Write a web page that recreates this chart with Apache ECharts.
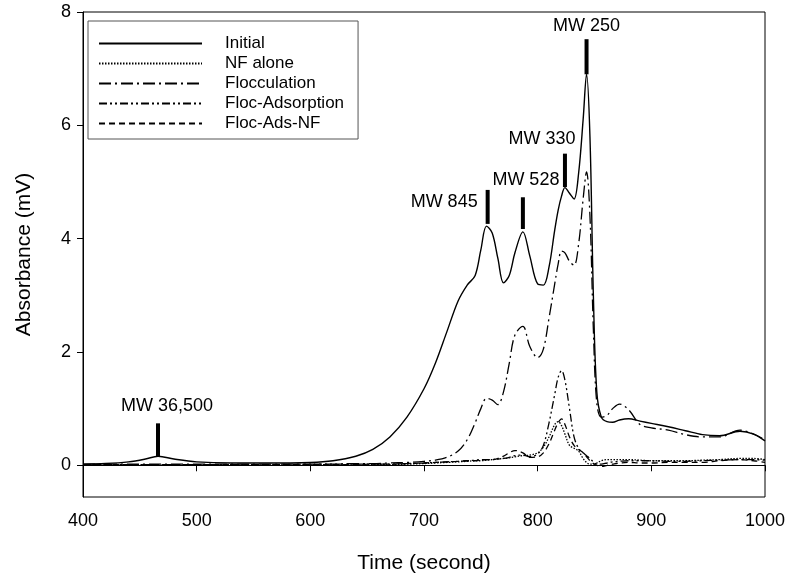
<!DOCTYPE html>
<html><head><meta charset="utf-8">
<script src="https://cdn.jsdelivr.net/npm/echarts@6/dist/echarts.min.js"></script>
<style>html,body{margin:0;padding:0;background:#fff}#c{width:791px;height:579px}</style>
</head><body><div id="c"></div>
<script>
// ---------- DATA ----------
const times = [400,420,440,455,466,480,500,530,560,600,620,640,655,670,685,700,710,720,730,738,745,750,755,760,765,770,775,780,787,793,800,805,810,815,818,821,824,828,832,836,840,843,846,849,852,856,861,866,872,880,890,900,915,930,945,960,978,990,1000];
const initial = [0.02,0.03,0.06,0.11,0.16,0.11,0.06,0.04,0.04,0.05,0.08,0.16,0.28,0.5,0.85,1.35,1.8,2.35,2.9,3.18,3.35,3.8,4.22,4.1,3.65,3.22,3.35,3.75,4.12,3.7,3.2,3.18,3.5,4.15,4.5,4.75,4.9,4.8,4.7,5.15,6.1,6.9,5.8,3.0,1.3,0.85,0.77,0.76,0.8,0.82,0.78,0.74,0.68,0.61,0.54,0.52,0.6,0.55,0.43];
const nfAlone = [0,0,0,0,0,0,0,0,0,0,0,0,0.01,0.01,0.02,0.03,0.04,0.05,0.06,0.07,0.08,0.08,0.09,0.1,0.11,0.12,0.13,0.15,0.17,0.18,0.22,0.32,0.5,0.72,0.77,0.7,0.55,0.35,0.3,0.25,0.12,0.05,0.02,0.02,0.04,0.08,0.1,0.1,0.1,0.1,0.09,0.08,0.08,0.08,0.09,0.1,0.12,0.12,0.1];
const flocculation = [0.02,0.02,0.02,0.02,0.02,0.02,0.02,0.02,0.02,0.02,0.02,0.03,0.03,0.04,0.05,0.07,0.09,0.14,0.25,0.45,0.75,1.0,1.18,1.15,1.07,1.3,1.8,2.3,2.45,2.1,1.9,2.05,2.6,3.2,3.55,3.78,3.75,3.6,3.53,3.9,4.7,5.18,4.4,2.4,1.1,0.85,0.88,1.0,1.08,0.98,0.72,0.66,0.62,0.54,0.5,0.5,0.62,0.55,0.45];
const flocAdsorption = [0.01,0.01,0.01,0.01,0.01,0.01,0.01,0.01,0.01,0.02,0.02,0.02,0.02,0.02,0.03,0.04,0.05,0.06,0.07,0.08,0.09,0.1,0.1,0.1,0.11,0.12,0.14,0.17,0.18,0.15,0.2,0.35,0.75,1.25,1.55,1.67,1.5,1.0,0.5,0.3,0.22,0.17,0.12,0.06,0.02,0.02,0.04,0.06,0.07,0.08,0.08,0.08,0.07,0.07,0.08,0.09,0.1,0.1,0.09];
const flocAdsNF = [0.01,0.01,0.01,0.01,0.01,0.01,0.01,0.01,0.01,0.01,0.01,0.01,0.02,0.02,0.03,0.04,0.05,0.06,0.07,0.08,0.08,0.09,0.1,0.1,0.12,0.16,0.22,0.26,0.22,0.14,0.15,0.22,0.38,0.62,0.75,0.82,0.72,0.5,0.35,0.28,0.22,0.15,0.08,0.03,0,-0.02,0,0.02,0.04,0.05,0.04,0.04,0.05,0.05,0.05,0.08,0.1,0.08,0.05];

const seriesNames = ['Initial','NF alone','Flocculation','Floc-Adsorption','Floc-Ads-NF'];

const annoNames = ['MW 36,500','MW 845','MW 528','MW 330','MW 250'];
const annoTime  = [466, 756, 787, 824, 843];
const annoBase  = [0.16, 4.26, 4.17, 4.91, 6.9];
const annoTop   = [0.74, 4.86, 4.73, 5.5, 7.52];

const yTicks = [0,2,4,6,8];

// ---------- STYLE ----------
const FONT = '"Liberation Sans", Arial, sans-serif';
const dashes = ['solid', [1.5,1.5], [12,4,2,4], [8,3,2,3,2,3], [6,4]];
// label placement: [dx, dy, align, verticalAlign] relative to bar top
const labelPlace = [
  [9, -8, 'center', 'bottom'],
  [-10, 12, 'right', 'middle'],
  [3, -8, 'center', 'bottom'],
  [-23, -6, 'center', 'bottom'],
  [0, -4, 'center', 'bottom']
];

const allSeries = [initial, nfAlone, flocculation, flocAdsorption, flocAdsNF];
const series = allSeries.map((vals, i) => ({
  name: seriesNames[i], type: 'line', smooth: 0.35, symbol: 'none',
  data: times.map((t, j) => [t, vals[j]]),
  lineStyle: {color: '#000', width: i === 0 ? 1.4 : 1.3, type: dashes[i]},
  itemStyle: {color: '#000'}, z: 3
}));

series.push({
  type: 'custom', name: 'annotations', z: 5, silent: true,
  data: annoNames.map((n, i) => [annoTime[i], annoBase[i], annoTop[i], i]),
  renderItem: function (params, api) {
    const t = api.value(0), b = api.value(1), tp = api.value(2), i = api.value(3);
    const p0 = api.coord([t, b]), p1 = api.coord([t, tp]);
    const lp = labelPlace[i];
    return {
      type: 'group',
      children: [
        {type: 'rect', shape: {x: p1[0] - 2, y: p1[1], width: 4, height: p0[1] - p1[1]}, style: {fill: '#000'}},
        {type: 'text', x: p1[0] + lp[0], y: p1[1] + lp[1],
         style: {text: annoNames[i], font: '18px ' + FONT, fill: '#000', align: lp[2], verticalAlign: lp[3]}}
      ]
    };
  }
});

const chart = echarts.init(document.getElementById('c'));
chart.setOption({
  animation: false,
  backgroundColor: '#fff',
  grid: {left: 83, right: 26, top: 12, bottom: 79, show: true, borderColor: '#000', borderWidth: 1},
  legend: {
    data: seriesNames, orient: 'vertical', left: 88, top: 21,
    itemWidth: 103, itemHeight: 14, itemGap: 3,
    padding: [14, 14, 7, 10],
    borderColor: '#555', borderWidth: 1,
    itemStyle: {opacity: 0},
    textStyle: {fontFamily: FONT, fontSize: 17, color: '#000', padding: [0, 0, 0, 18]},
    selectedMode: false
  },
  xAxis: {
    type: 'value', min: 400, max: 1000, interval: 100,
    name: 'Time (second)', nameLocation: 'middle', nameGap: 56,
    nameTextStyle: {fontFamily: FONT, fontSize: 21, color: '#000'},
    axisLine: {lineStyle: {color: '#000'}},
    axisTick: {show: true, length: 6, inside: false, lineStyle: {color: '#000'}},
    axisLabel: {fontFamily: FONT, fontSize: 18, color: '#000', margin: 15, formatter: v => String(v)},
    splitLine: {show: false}
  },
  yAxis: {
    type: 'value', min: -0.56, max: 8,
    name: 'Absorbance (mV)', nameLocation: 'middle', nameGap: 48,
    nameTextStyle: {fontFamily: FONT, fontSize: 21, color: '#000'},
    axisLine: {show: true, lineStyle: {color: '#000'}},
    axisTick: {show: true, length: 6, customValues: yTicks, lineStyle: {color: '#000'}},
    axisLabel: {fontFamily: FONT, fontSize: 18, color: '#000', margin: 12, customValues: yTicks},
    splitLine: {show: false}
  },
  series: series
});
</script></body></html>
